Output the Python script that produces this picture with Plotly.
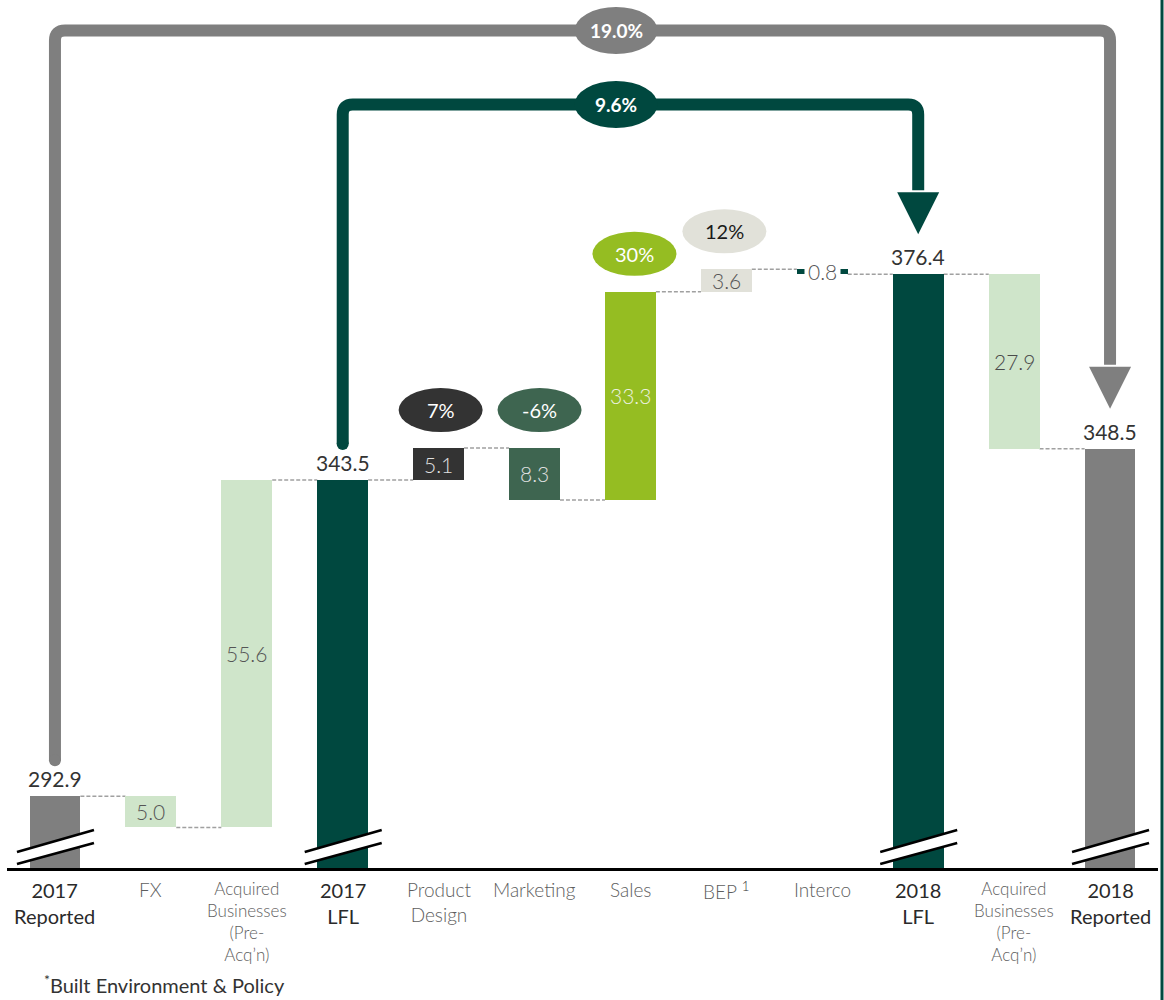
import plotly.graph_objects as go

# ---------------- data ----------------
categories = ["2017<br>Reported", "FX", "Acquired<br>Businesses<br>(Pre-<br>Acq\u2019n)", "2017<br>LFL",
              "Product<br>Design", "Marketing", "Sales", "BEP", "Interco", "2018<br>LFL",
              "Acquired<br>Businesses<br>(Pre-<br>Acq\u2019n)", "2018<br>Reported"]
values = [292.9, -5.0, 55.6, 343.5, 5.1, -8.3, 33.3, 3.6, -0.8, 376.4, -27.9, 348.5]
is_total = [True, False, False, True, False, False, False, False, False, True, False, True]
growth_labels = {4: "7%", 5: "-6%", 6: "30%", 7: "12%"}
bridge_reported = "19.0%"
bridge_lfl = "9.6%"
footnote = "Built Environment & Policy"

# ---------------- style ----------------
C_GREY = "#7f7f7f"
C_DARK = "#00483f"
C_LIGHT = "#cfe5ca"
bar_colors = [C_GREY, C_LIGHT, C_LIGHT, C_DARK, "#333333", "#3e6550", "#95bd22",
              "#e1e1d9", C_DARK, C_DARK, C_LIGHT, C_GREY]
label_colors = [None, "#555555", "#555555", None, "#e0e0e0", "#e0e0e0", "#eef2e0",
                "#555555", "#555555", None, "#4a4a4a", None]
ellipse_colors = {4: ("#333333", "white"), 5: ("#3e6550", "white"),
                  6: ("#95bd22", "white"), 7: ("#e1e1d9", "#1a1a1a")}
ellipse_dx = {4: 2, 5: 5, 6: 4, 7: -2}

Y0, Y1 = 281.4, 420.3
PX_Y = 868 / (Y1 - Y0)          # pixels per value unit
PX_X = 1151 / 12.0              # pixels per category
BW = 0.53
FONT = "Lato"

def dy(px):
    return px / PX_Y

def dx(px):
    return px / PX_X

# ---------------- waterfall geometry ----------------
bases, heights, levels_after = [], [], []
level = 0.0
for v, t in zip(values, is_total):
    if t:
        bases.append(0.0)
        heights.append(v)
        level = v
    else:
        bases.append(level if v > 0 else level + v)
        heights.append(abs(v))
        level = level + v
    levels_after.append(level)

xs = list(range(len(categories)))

fig = go.Figure()
fig.add_trace(go.Bar(x=xs, y=heights, base=bases, width=BW,
                     marker=dict(color=bar_colors, line=dict(width=0)),
                     hoverinfo="skip", showlegend=False))

shapes = []
annotations = []

# dashed connectors
for i in range(len(xs) - 1):
    lv = levels_after[i]
    shapes.append(dict(type="line", xref="x", yref="y", x0=i + BW / 2, x1=i + 1 - BW / 2,
                       y0=lv, y1=lv, line=dict(color="#a0a0a0", width=1.5, dash="4px,2px"),
                       layer="below"))

# value labels
for i, (v, t) in enumerate(zip(values, is_total)):
    if t:
        annotations.append(dict(x=i, y=v, xref="x", yref="y", text=f"{v:.1f}", showarrow=False,
                                yanchor="bottom", yshift=3,
                                font=dict(family=FONT, size=21, color="#333333", weight=400)))
    else:
        mid = bases[i] + heights[i] / 2
        a = dict(x=i, y=mid, xref="x", yref="y", text=f"{abs(v):.1f}", showarrow=False,
                 yanchor="middle", font=dict(family=FONT, size=21, color=label_colors[i], weight=300))
        if i == 8:
            a.update(bgcolor="white", borderpad=3)
        annotations.append(a)

# break marks on totals
for i, t in enumerate(is_total):
    if not t:
        continue
    xl, xr = i - dx(38), i + dx(39)
    yl_lo, yr_lo = Y0 + dy(4), Y0 + dy(25)
    yl_hi, yr_hi = Y0 + dy(16), Y0 + dy(38)
    shapes.append(dict(type="path", xref="x", yref="y",
                       path=f"M {xl},{yl_lo} L {xr},{yr_lo} L {xr},{yr_hi} L {xl},{yl_hi} Z",
                       fillcolor="white", line=dict(width=0)))
    for (ya, yb) in [(yl_lo, yr_lo), (yl_hi, yr_hi)]:
        shapes.append(dict(type="line", xref="x", yref="y", x0=xl, x1=xr, y0=ya, y1=yb,
                           line=dict(color="black", width=2.5)))

# growth ellipses
for i, txt in growth_labels.items():
    top = bases[i] + heights[i]
    cy = top + dy(38)
    cx = i + dx(ellipse_dx[i])
    fill, tcol = ellipse_colors[i]
    shapes.append(dict(type="circle", xref="x", yref="y", x0=cx - dx(42), x1=cx + dx(42),
                       y0=cy - dy(22), y1=cy + dy(22), fillcolor=fill, line=dict(width=0)))
    annotations.append(dict(x=cx, y=cy, xref="x", yref="y", text=txt, showarrow=False,
                            font=dict(family=FONT, size=20, color=tcol, weight=400)))

# bridge arrows
def bridge(i0, i1, v0, v1, top, color, label, lw=12):
    y_start = v0 + dy(36)
    tip = v1 + dy(40)
    head_base = tip + dy(42)
    r_x, r_y = dx(10), dy(10)
    path = (f"M {i0},{y_start} L {i0},{top - r_y} Q {i0},{top} {i0 + r_x},{top} "
            f"L {i1 - r_x},{top} Q {i1},{top} {i1},{top - r_y} L {i1},{head_base + dy(2)}")
    shapes.append(dict(type="path", xref="x", yref="y", path=path,
                       line=dict(color=color, width=lw)))
    shapes.append(dict(type="circle", xref="x", yref="y", x0=i0 - dx(lw / 2), x1=i0 + dx(lw / 2),
                       y0=y_start - dy(lw / 2), y1=y_start + dy(lw / 2), fillcolor=color,
                       line=dict(width=0)))
    shapes.append(dict(type="path", xref="x", yref="y",
                       path=f"M {i1 - dx(21)},{head_base} L {i1 + dx(21)},{head_base} L {i1},{tip} Z",
                       fillcolor=color, line=dict(width=0)))
    cx = 5.85
    shapes.append(dict(type="circle", xref="x", yref="y", x0=cx - dx(41.5), x1=cx + dx(41.5),
                       y0=top - dy(23.5), y1=top + dy(23.5), fillcolor=color, line=dict(width=0)))
    annotations.append(dict(x=cx, y=top, xref="x", yref="y", text=f"<b>{label}</b>", showarrow=False,
                            font=dict(family=FONT, size=19, color="white")))

bridge(0, 11, values[0], values[11], Y0 + dy(868 - 30.5), C_GREY, bridge_reported)
bridge(3, 9, values[3], values[9], Y0 + dy(868 - 104.5), C_DARK, bridge_lfl)

# right edge rule (filled strip in paper coordinates)
shapes.append(dict(type="rect", xref="paper", yref="paper", x0=1 + 2.5 / 1151, x1=1 + 5.5 / 1151,
                   y0=-132 / 868, y1=1, fillcolor=C_DARK, line=dict(width=0)))

# category labels
for i, cat in enumerate(categories):
    if is_total[i]:
        font = dict(family=FONT, size=20, color="#2a2a2a", weight=400)
    elif "Acquired" in cat:
        font = dict(family=FONT, size=17, color="#5e5e5e", weight=300)
    else:
        font = dict(family=FONT, size=19, color="#5e5e5e", weight=300)
    text = cat
    if cat == "BEP":
        text = 'BEP <span style="color:#333333"><sup>1</sup></span>'
    annotations.append(dict(x=i, y=0, xref="x", yref="paper", text=text, showarrow=False,
                            yanchor="top", yshift=-8, align="center", font=font))

# footnote
annotations.append(dict(x=(42 - 7) / 1151, y=-(999 - 868) / 868, xref="paper", yref="paper",
                        xanchor="left", yanchor="bottom", showarrow=False,
                        text=f"<sup>*</sup>{footnote}",
                        font=dict(family=FONT, size=20, color="#333333", weight=400)))

fig.update_layout(
    width=1164, height=1000,
    margin=dict(l=7, r=6, t=0, b=132),
    paper_bgcolor="white", plot_bgcolor="white",
    xaxis=dict(range=[-0.5, 11.5], showticklabels=False, showgrid=False, zeroline=False,
               showline=True, linecolor="black", linewidth=3, ticks="", fixedrange=True),
    yaxis=dict(range=[Y0, Y1], visible=False, showgrid=False, zeroline=False, fixedrange=True),
    shapes=shapes, annotations=annotations,
    bargap=0, showlegend=False,
)

fig.write_html("out.html")
